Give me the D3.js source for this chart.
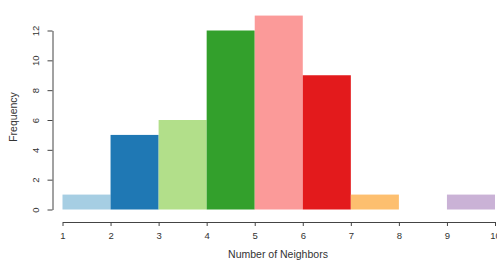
<!DOCTYPE html>
<html>
<head>
<meta charset="utf-8">
<script src="https://cdn.jsdelivr.net/npm/d3@7"></script>
<style>
  body { margin: 0; background: #fff; }
  text { font-family: "Liberation Sans", Arial, sans-serif; fill: #333; }
</style>
</head>
<body>
<script>
// histogram bins (number of neighbors) and counts
const binStarts = [1, 2, 3, 4, 5, 6, 7, 8, 9];
const counts = [1, 5, 6, 12, 13, 9, 1, 0, 1];
const colors = ["#A6CEE3", "#1F78B4", "#B2DF8A", "#33A02C", "#FB9A99", "#E31A1C", "#FDBF6F", "#FF7F00", "#CAB2D6"];
const xTicks = [1, 2, 3, 4, 5, 6, 7, 8, 9, 10];
const yTicks = [0, 2, 4, 6, 8, 10, 12];

const width = 497, height = 262;
const svg = d3.select("body").append("svg").attr("width", width).attr("height", height);

const x = d3.scaleLinear().domain([1, 10]).range([62.5, 495]);
const y = d3.scaleLinear().domain([0, 12]).range([209.5, 30.5]);

const bins = binStarts.map((b, i) => ({ x0: b, x1: b + 1, n: counts[i], c: colors[i] }));

svg.append("g")
  .selectAll("rect")
  .data(bins.filter(d => d.n > 0))
  .join("rect")
  .attr("x", d => x(d.x0))
  .attr("width", d => x(d.x1) - x(d.x0))
  .attr("y", d => y(d.n))
  .attr("height", d => y(0) - y(d.n))
  .attr("fill", d => d.c);

// x axis
const xAxis = svg.append("g").attr("transform", "translate(0,222)")
  .call(d3.axisBottom(x).tickValues(xTicks).tickSize(4).tickSizeOuter(0).tickFormat(d3.format("d")));
xAxis.select(".domain").attr("stroke", "#444");
xAxis.selectAll(".tick line").attr("stroke", "#444");
xAxis.selectAll("text").attr("font-size", 9.5).attr("dy", "1.1em");

// y axis
const yAxis = svg.append("g").attr("transform", "translate(52.5,0)")
  .call(d3.axisLeft(y).tickValues(yTicks).tickSize(5).tickSizeOuter(0));
yAxis.select(".domain").attr("stroke", "#444");
yAxis.selectAll(".tick line").attr("stroke", "#444");
yAxis.selectAll("text")
  .attr("font-size", 9.5)
  .attr("x", null).attr("dy", null)
  .attr("text-anchor", "middle")
  .attr("transform", "translate(-14,0) rotate(-90)");

svg.append("text")
  .attr("x", 278).attr("y", 258)
  .attr("text-anchor", "middle")
  .attr("font-size", 10.5)
  .text("Number of Neighbors");

svg.append("text")
  .attr("transform", "translate(17,117) rotate(-90)")
  .attr("text-anchor", "middle")
  .attr("font-size", 10.5)
  .text("Frequency");
</script>
</body>
</html>
